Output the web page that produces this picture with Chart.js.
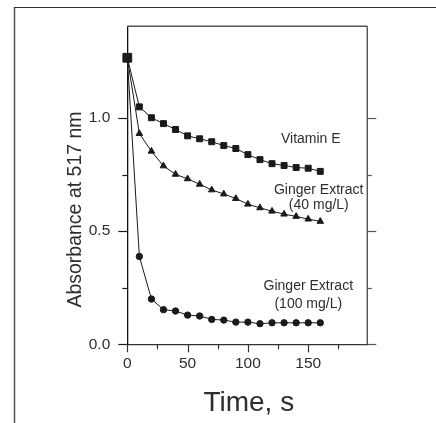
<!DOCTYPE html>
<html><head><meta charset="utf-8">
<script src="https://cdn.jsdelivr.net/npm/chart.js@4"></script>
<style>html,body{margin:0;padding:0;background:#fff;overflow:hidden}canvas{display:block}</style>
</head><body>
<canvas id="c" width="436" height="423"></canvas>
<script>
// ---- data ----
const times      = [0, 10, 20, 30, 40, 50, 60, 70, 80, 90, 100, 110, 120, 130, 140, 150, 160];
const vitaminE   = [1.266, 1.049, 1.001, 0.975, 0.949, 0.921, 0.908, 0.895, 0.878, 0.865, 0.838, 0.816, 0.798, 0.790, 0.781, 0.778, 0.764];
const ginger40   = [1.266, 0.931, 0.853, 0.788, 0.751, 0.731, 0.707, 0.682, 0.664, 0.644, 0.619, 0.603, 0.588, 0.575, 0.565, 0.553, 0.543];
const ginger100  = [1.266, 0.388, 0.200, 0.153, 0.147, 0.129, 0.125, 0.110, 0.107, 0.098, 0.098, 0.091, 0.095, 0.095, 0.095, 0.095, 0.095];
const seriesNames = ['Vitamin E', 'Ginger Extract (40 mg/L)', 'Ginger Extract (100 mg/L)'];
const xTickValues = [0, 50, 100, 150];
const xMinorTicks = [25, 75, 125, 175];
const yTickValues = [0.0, 0.5, 1.0];
const yMinorTicks = [0.25, 0.75];
const xTitle = 'Time, s';
const yTitle = 'Absorbance at 517 nm';

const FONT = '"Liberation Sans", Arial, sans-serif';
const INK = '#1a1a1a';
const TXT = '#2e2e2e';

const pts = vals => times.map((t, i) => ({x: t, y: vals[i]}));

const decor = {
  id: 'decor',
  beforeDatasetsDraw(chart) {
    const {ctx, chartArea: a, scales: {x, y}} = chart;
    ctx.save();
    // top and right frame of plot
    ctx.strokeStyle = '#555';
    ctx.lineWidth = 1.4;
    ctx.beginPath();
    ctx.moveTo(a.left, a.top); ctx.lineTo(a.right, a.top);
    ctx.moveTo(a.right, a.top); ctx.lineTo(a.right, a.bottom);
    ctx.stroke();
    // y ticks (left outward, right outward)
    ctx.lineWidth = 1.2;
    const yt = (v, lenL, lenR) => {
      const py = Math.round(y.getPixelForValue(v)) + 0.5;
      ctx.strokeStyle = INK;
      ctx.beginPath(); ctx.moveTo(a.left - lenL, py); ctx.lineTo(a.left, py); ctx.stroke();
      ctx.strokeStyle = '#555';
      ctx.beginPath(); ctx.moveTo(a.right, py); ctx.lineTo(a.right + lenR, py); ctx.stroke();
    };
    yTickValues.forEach(v => yt(v, 9, 9));
    yMinorTicks.forEach(v => yt(v, 5, 4.5));
    // x ticks downward
    ctx.strokeStyle = '#333';
    const xt = (v, len) => {
      const px = Math.round(x.getPixelForValue(v)) + 0.5;
      ctx.beginPath(); ctx.moveTo(px, a.bottom); ctx.lineTo(px, a.bottom + len); ctx.stroke();
    };
    xTickValues.forEach(v => xt(v, 8));
    xMinorTicks.forEach(v => xt(v, 5));
    ctx.restore();
  },
  afterDraw(chart) {
    const {ctx, chartArea: a} = chart;
    ctx.save();
    // outer frame
    ctx.strokeStyle = '#555'; ctx.lineWidth = 1.5;
    ctx.beginPath(); ctx.moveTo(14.5, 423); ctx.lineTo(14.5, 7); ctx.stroke();
    ctx.strokeStyle = '#333'; ctx.lineWidth = 1;
    ctx.beginPath(); ctx.moveTo(14, 7.5); ctx.lineTo(436, 7.5); ctx.stroke();

    ctx.fillStyle = TXT;
    ctx.textAlign = 'center';
    ctx.textBaseline = 'alphabetic';
    // series labels
    ctx.font = '14px ' + FONT;
    ctx.fillText('Vitamin E', 310.8, 142.5);
    ctx.fillText('Ginger Extract', 318.7, 194);
    ctx.fillText('(40 mg/L)', 318.8, 209);
    ctx.fillText('Ginger Extract', 308.3, 290);
    ctx.fillText('(100 mg/L)', 308.3, 308.3);
    // axis titles
    ctx.font = '28px ' + FONT;
    ctx.fillText(xTitle, (a.left + a.right) / 2 + 1.5, 411);
    ctx.font = '19.5px ' + FONT;
    ctx.translate(80.7, 209.5);
    ctx.rotate(-Math.PI / 2);
    ctx.fillText(yTitle, 0, 0);
    ctx.restore();
  }
};

const common = {
  borderColor: INK, backgroundColor: INK, borderWidth: 1,
  pointBorderColor: INK, pointBackgroundColor: INK, pointBorderWidth: 1,
  tension: 0, fill: false, clip: false
};

new Chart(document.getElementById('c'), {
  type: 'line',
  data: {
    datasets: [
      Object.assign({label: seriesNames[0], data: pts(vitaminE), pointStyle: 'rect',
        pointRadius: c => c.dataIndex === 0 ? 6.2 : 4.2}, common),
      Object.assign({label: seriesNames[1], data: pts(ginger40), pointStyle: 'triangle', pointRadius: 3.8}, common),
      Object.assign({label: seriesNames[2], data: pts(ginger100), pointStyle: 'circle', pointRadius: 3.2}, common)
    ]
  },
  options: {
    responsive: false, animation: false, devicePixelRatio: 1,
    layout: {padding: {top: 25.7, right: 68.7, left: 0, bottom: 0}},
    plugins: {legend: {display: false}, tooltip: {enabled: false}},
    scales: {
      x: {
        type: 'linear', min: 0, max: 199,
        afterBuildTicks: s => { s.ticks = xTickValues.map(v => ({value: v})); },
        afterFit: s => { s.height = 78.7; },
        grid: {display: false, drawTicks: false},
        border: {display: true, color: '#333', width: 1.3},
        ticks: {padding: 10, color: TXT, font: {family: FONT, size: 15.5}, maxRotation: 0,
          callback: v => String(v)}
      },
      y: {
        type: 'linear', min: 0, max: 1.405,
        afterBuildTicks: s => { s.ticks = yTickValues.map(v => ({value: v})); },
        afterFit: s => { s.width = 127.3; },
        grid: {display: false, drawTicks: false},
        border: {display: true, color: '#111', width: 1.3},
        ticks: {padding: 17, color: TXT, font: {family: FONT, size: 15.5},
          callback: v => Number(v).toFixed(1)}
      }
    }
  },
  plugins: [decor]
});
</script>
</body></html>
